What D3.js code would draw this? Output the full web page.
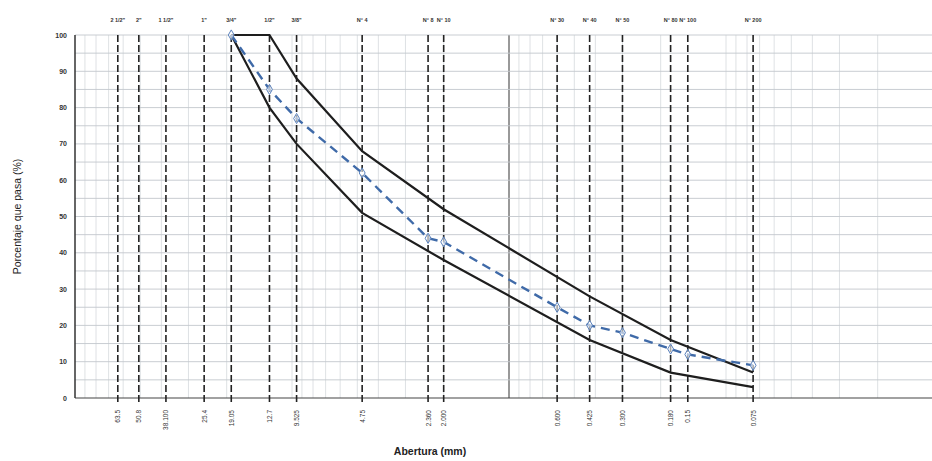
<!DOCTYPE html>
<html>
<head>
<meta charset="utf-8">
<script src="https://cdn.jsdelivr.net/npm/d3@7"></script>
<style>
  body { margin: 0; background: #fff; }
  svg { font-family: "Liberation Sans", Arial, sans-serif; }
</style>
</head>
<body>
<div id="Area"></div>
<script>
// sieve sizes (mm) and their names
var sieveSizes = [63.5, 50.8, 38.1, 25.4, 19.05, 12.7, 9.525, 4.75, 2.36, 2.00, 0.600, 0.425, 0.300, 0.180, 0.150, 0.075];
var sieveNames = ["2 1/2\"", "2\"", "1 1/2\"", "1\"", "3/4\"", "1/2\"", "3/8\"", "N° 4", "N° 8", "N° 10", "N° 30", "N° 40", "N° 50", "N° 80", "N° 100", "N° 200"];
var sizeLabels = ["63.5", "50.8", "38.100", "25.4", "19.05", "12.7", "9.525", "4.75", "2.360", "2.000", "0.600", "0.425", "0.300", "0.180", "0.15", "0.075"];

// limits of the gradation band
var limitSizes = [19.05, 12.7, 9.525, 4.75, 2.00, 0.425, 0.180, 0.075];
var upperLimit = [100, 100, 88, 68, 52, 28, 16, 7];
var lowerLimit = [100, 80, 70, 51, 38, 16, 7, 3];

// sample curve
var sampleSizes = [19.05, 12.7, 9.525, 4.75, 2.36, 2.00, 0.600, 0.425, 0.300, 0.180, 0.150, 0.075];
var samplePass = [100, 85, 77, 62, 44, 43, 25, 20, 18, 13.5, 12, 9];

var yTicks = [0, 10, 20, 30, 40, 50, 60, 70, 80, 90, 100];

var W = 932, H = 461;
var mLeft = 75, mTop = 35, mBottom = 398;

var svg = d3.select("#Area").append("svg")
  .attr("width", W)
  .attr("height", H);

var x = d3.scaleLog().domain([100, 0.01]).range([mLeft, 943]);
var y = d3.scaleLinear().domain([0, 100]).range([mBottom, mTop]);

// minor log grid (vertical)
var minor = [];
[10, 1, 0.1, 0.01].forEach(function (dec) {
  for (var k = 1; k <= 9; k++) minor.push(dec * k);
});
svg.append("g").selectAll("line")
  .data(minor.filter(function (d) { return d < 100 && d > 0.01; }))
  .enter().append("line")
  .attr("x1", function (d) { return x(d); })
  .attr("x2", function (d) { return x(d); })
  .attr("y1", y(100))
  .attr("y2", y(0))
  .attr("stroke", function (d) { return Math.abs(d - 1) < 1e-9 ? "#555" : "#d6d9dd"; })
  .attr("stroke-width", function (d) { return Math.abs(d - 1) < 1e-9 ? 1.2 : 0.8; });

// horizontal grid every 5 %
svg.append("g").selectAll("line")
  .data(d3.range(0, 101, 5))
  .enter().append("line")
  .attr("x1", mLeft)
  .attr("x2", W)
  .attr("y1", function (d) { return y(d); })
  .attr("y2", function (d) { return y(d); })
  .attr("stroke", function (d) { return d === 0 ? "#444" : "#c3c7cd"; })
  .attr("stroke-width", function (d) { return d === 0 ? 1.2 : 0.9; });

// y axis line
svg.append("line")
  .attr("x1", mLeft).attr("x2", mLeft)
  .attr("y1", y(100)).attr("y2", y(0))
  .attr("stroke", "#333").attr("stroke-width", 1.5);

// sieve dashed lines
svg.append("g").selectAll("line")
  .data(sieveSizes)
  .enter().append("line")
  .attr("x1", function (d) { return x(d); })
  .attr("x2", function (d) { return x(d); })
  .attr("y1", y(100))
  .attr("y2", y(0) + 6)
  .attr("stroke", "#222")
  .attr("stroke-width", 1.6)
  .attr("stroke-dasharray", "7,3");

// top sieve names
svg.append("g").selectAll("text")
  .data(sieveSizes)
  .enter().append("text")
  .attr("x", function (d) { return x(d); })
  .attr("y", 22)
  .attr("text-anchor", "middle")
  .attr("font-size", 5.5)
  .attr("font-weight", "bold")
  .attr("fill", "#333")
  .text(function (d, i) { return sieveNames[i]; });

// bottom size labels, rotated
svg.append("g").selectAll("text")
  .data(sieveSizes)
  .enter().append("text")
  .attr("transform", function (d) { return "translate(" + (x(d) + 2.5) + "," + 410 + ")rotate(-90)"; })
  .attr("text-anchor", "end")
  .attr("font-size", 6.5)
  .attr("fill", "#333")
  .text(function (d, i) { return sizeLabels[i]; });

// y tick labels
svg.append("g").selectAll("text")
  .data(yTicks)
  .enter().append("text")
  .attr("x", 67)
  .attr("y", function (d) { return y(d) + 2.5; })
  .attr("text-anchor", "end")
  .attr("font-size", 7)
  .attr("font-weight", "bold")
  .attr("fill", "#333")
  .text(function (d) { return d; });

// axis titles
svg.append("text")
  .attr("transform", "translate(21," + ((mTop + mBottom) / 2) + ")rotate(-90)")
  .attr("text-anchor", "middle")
  .attr("font-size", 10.5)
  .attr("fill", "#222")
  .text("Porcentaje que pasa (%)");

svg.append("text")
  .attr("x", 430)
  .attr("y", 455)
  .attr("text-anchor", "middle")
  .attr("font-size", 10.5)
  .attr("font-weight", "bold")
  .attr("fill", "#222")
  .text("Abertura (mm)");

// band limits
var line = d3.line()
  .x(function (d) { return x(d[0]); })
  .y(function (d) { return y(d[1]); });

[upperLimit, lowerLimit].forEach(function (lim) {
  svg.append("path")
    .datum(limitSizes.map(function (s, i) { return [s, lim[i]]; }))
    .attr("d", line)
    .attr("fill", "none")
    .attr("stroke", "#1e1e1e")
    .attr("stroke-width", 2.2);
});

// sample curve
var pts = sampleSizes.map(function (s, i) { return [s, samplePass[i]]; });
svg.append("path")
  .datum(pts)
  .attr("d", line)
  .attr("fill", "none")
  .attr("stroke", "#3f6aa8")
  .attr("stroke-width", 2.4)
  .attr("stroke-dasharray", "9,6");

svg.append("g").selectAll("path")
  .data(pts)
  .enter().append("path")
  .attr("transform", function (d) { return "translate(" + x(d[0]) + "," + y(d[1]) + ")"; })
  .attr("d", d3.symbol().type(d3.symbolDiamond).size(30))
  .attr("fill", "#fff")
  .attr("fill-opacity", 0.6)
  .attr("stroke", "#5b82bd")
  .attr("stroke-width", 1);
</script>
</body>
</html>
